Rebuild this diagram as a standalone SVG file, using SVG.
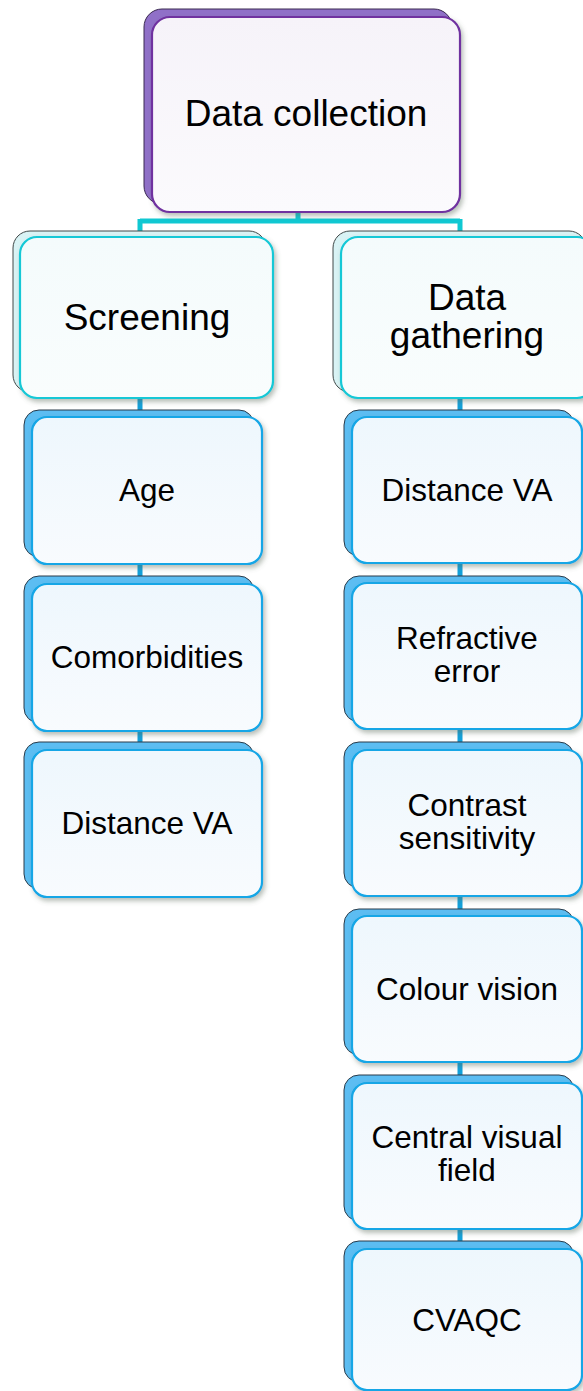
<svg xmlns="http://www.w3.org/2000/svg" width="583" height="1391" viewBox="0 0 583 1391">
<defs>
<linearGradient id="gPurple" x1="0" y1="0" x2="0" y2="1"><stop offset="0" stop-color="#f6f3f9"/><stop offset="1" stop-color="#fbfafd"/></linearGradient>
<linearGradient id="gCyan" x1="0" y1="0" x2="0" y2="1"><stop offset="0" stop-color="#f4fbfc"/><stop offset="1" stop-color="#f9fdfd"/></linearGradient>
<linearGradient id="gBlue" x1="0" y1="0" x2="0" y2="1"><stop offset="0" stop-color="#eef7fd"/><stop offset="1" stop-color="#f8fbfe"/></linearGradient>
<filter id="sh" x="-10%" y="-10%" width="125%" height="125%"><feDropShadow dx="2" dy="3" stdDeviation="2.5" flood-color="#5f6f5f" flood-opacity="0.45"/></filter>
</defs>
<style>
text{font-family:"Liberation Sans",Arial,sans-serif;fill:#000;text-anchor:middle}
.t1{font-size:37px}
.t3{font-size:31.5px}
.bp{fill:#9070c8;stroke:#3a2a50;stroke-width:1}
.fp{fill:url(#gPurple);stroke:#7030a0;stroke-width:2.2;filter:url(#sh)}
.bc{fill:#d9f3f5;stroke:#404848;stroke-width:1}
.fc{fill:url(#gCyan);stroke:#12c8d6;stroke-width:2.2;filter:url(#sh)}
.bb{fill:#5cbdf2;stroke:#2a3a48;stroke-width:1}
.fb{fill:url(#gBlue);stroke:#12a6e6;stroke-width:2.2;filter:url(#sh)}
.ct{fill:none;stroke:#10c8d2;stroke-width:5}
.cb{fill:none;stroke:#12a0da;stroke-width:5}
</style>
<rect width="583" height="1391" fill="#fff"/>
<g id="connectors">
<path class="ct" d="M298 210 V221 M140 221 H460 M140 219 V238 M460 219 V238"/>
<path class="cb" d="M140 396 V418 M140 562 V585 M140 729 V751"/>
<path class="cb" d="M460 396 V418 M460 562 V585 M460 729 V751 M460 895 V918 M460 1062 V1084 M460 1228 V1250"/>
</g>
<g id="node-data-collection">
<rect class="bp" x="144" y="9" width="308" height="195" rx="18"/>
<rect class="fp" x="152" y="17" width="308" height="195" rx="18"/>
<text class="t1" x="306" y="126">Data collection</text>
</g>
<g id="node-screening">
<rect class="bc" x="13" y="231" width="253" height="161" rx="17"/>
<rect class="fc" x="20" y="237" width="253" height="161" rx="17"/>
<text class="t1" x="147" y="330">Screening</text>
</g>
<g id="node-data-gathering">
<rect class="bc" x="333" y="231" width="253" height="161" rx="17"/>
<rect class="fc" x="341" y="237" width="253" height="161" rx="17"/>
<text class="t1" x="467" y="310">Data</text>
<text class="t1" x="467" y="348">gathering</text>
</g>
<g id="node-age">
<rect class="bb" x="24" y="410" width="230" height="147" rx="15"/>
<rect class="fb" x="32" y="417" width="230" height="147" rx="15"/>
<text class="t3" x="147" y="501">Age</text>
</g>
<g id="node-comorbidities">
<rect class="bb" x="24" y="576" width="230" height="147" rx="15"/>
<rect class="fb" x="32" y="584" width="230" height="147" rx="15"/>
<text class="t3" x="147" y="668">Comorbidities</text>
</g>
<g id="node-distance-va-screening">
<rect class="bb" x="24" y="742" width="230" height="147" rx="15"/>
<rect class="fb" x="32" y="750" width="230" height="147" rx="15"/>
<text class="t3" x="147" y="834">Distance VA</text>
</g>
<g id="node-distance-va">
<rect class="bb" x="344" y="410" width="230" height="146" rx="15"/>
<rect class="fb" x="352" y="417" width="230" height="146" rx="15"/>
<text class="t3" x="467" y="501">Distance VA</text>
</g>
<g id="node-refractive-error">
<rect class="bb" x="344" y="576" width="230" height="146" rx="15"/>
<rect class="fb" x="352" y="583" width="230" height="146" rx="15"/>
<text class="t3" x="467" y="649">Refractive</text>
<text class="t3" x="467" y="682">error</text>
</g>
<g id="node-contrast-sensitivity">
<rect class="bb" x="344" y="742" width="230" height="146" rx="15"/>
<rect class="fb" x="352" y="750" width="230" height="146" rx="15"/>
<text class="t3" x="467" y="816">Contrast</text>
<text class="t3" x="467" y="849">sensitivity</text>
</g>
<g id="node-colour-vision">
<rect class="bb" x="344" y="909" width="230" height="146" rx="15"/>
<rect class="fb" x="352" y="916" width="230" height="146" rx="15"/>
<text class="t3" x="467" y="1000">Colour vision</text>
</g>
<g id="node-central-visual-field">
<rect class="bb" x="344" y="1075" width="230" height="146" rx="15"/>
<rect class="fb" x="352" y="1083" width="230" height="146" rx="15"/>
<text class="t3" x="467" y="1148">Central visual</text>
<text class="t3" x="467" y="1181">field</text>
</g>
<g id="node-cvaqc">
<rect class="bb" x="344" y="1241" width="230" height="141" rx="15"/>
<rect class="fb" x="352" y="1249" width="230" height="141" rx="15"/>
<text class="t3" x="467" y="1331">CVAQC</text>
</g>
</svg>
